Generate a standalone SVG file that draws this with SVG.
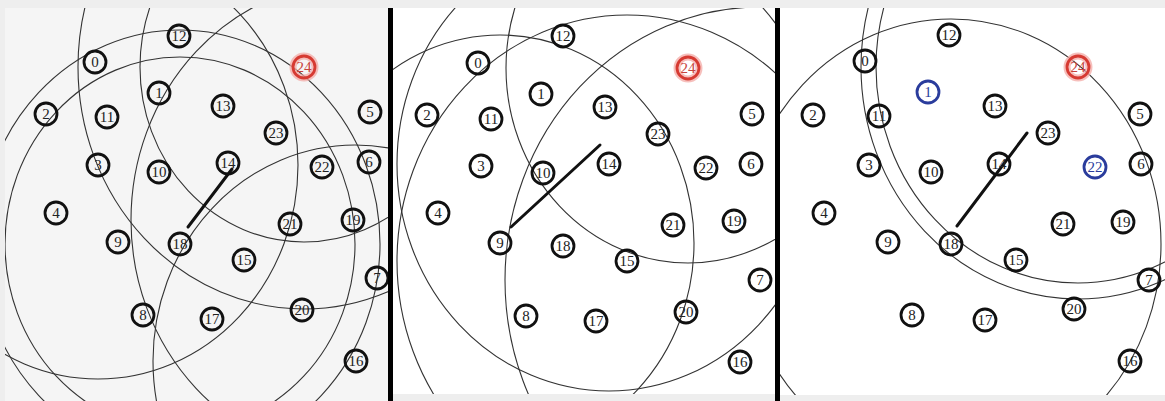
<svg xmlns="http://www.w3.org/2000/svg" width="1165" height="401" viewBox="0 0 1165 401">
<style>
.rng{fill:none;stroke:#333;stroke-width:1.1}
.nd circle{fill:none;stroke:#111;stroke-width:2.8}
.nd text{font-family:"Liberation Serif","Times New Roman",serif;font-size:15px;fill:#222;text-anchor:middle}
.red circle{stroke:#d63a32}
.red circle.glow{stroke:#f3a9a5;stroke-width:7;opacity:0.75}
.red text{fill:#c8433c}
.blue circle{stroke:#2a3c9c}
.blue text{fill:#2a3c9c}
.ln{stroke:#111;stroke-width:3;stroke-linecap:round}
</style>
<defs>
<clipPath id="clip1"><rect x="5" y="8" width="383" height="393"/></clipPath>
<clipPath id="clip2"><rect x="393" y="8" width="382" height="386"/></clipPath>
<clipPath id="clip3"><rect x="780" y="8" width="385" height="387"/></clipPath>
</defs>
<rect x="0" y="0" width="1165" height="401" fill="#eeeeee"/>
<rect x="5" y="8" width="383" height="393" fill="#f5f5f5"/>
<rect x="393" y="8" width="382" height="386" fill="#ffffff"/>
<rect x="780" y="8" width="385" height="387" fill="#ffffff"/>
<rect x="388" y="8" width="5" height="393" fill="#000"/>
<rect x="775" y="8" width="5" height="393" fill="#000"/>

<g id="connectors">
<g id="ranges-1" clip-path="url(#clip1)">
<ellipse class="rng" cx="304" cy="67" rx="226" ry="242"/>
<ellipse class="rng" cx="304" cy="67" rx="164" ry="175"/>
<ellipse class="rng" cx="180" cy="244" rx="175" ry="187"/>
<ellipse class="rng" cx="180" cy="244" rx="200" ry="214"/>
<ellipse class="rng" cx="98" cy="165" rx="200" ry="214"/>
<ellipse class="rng" cx="353" cy="220" rx="222" ry="238"/>
<ellipse class="rng" cx="355" cy="361" rx="202" ry="216"/>
<line class="ln" x1="188" y1="227" x2="232" y2="169"/>
</g>
<g id="ranges-2" clip-path="url(#clip2)">
<ellipse class="rng" cx="500" cy="243" rx="194" ry="208"/>
<ellipse class="rng" cx="688" cy="68" rx="182" ry="195"/>
<ellipse class="rng" cx="609" cy="164" rx="212" ry="227"/>
<ellipse class="rng" cx="627" cy="261" rx="230" ry="246"/>
<ellipse class="rng" cx="760" cy="280" rx="255" ry="273"/>
<line class="ln" x1="511" y1="227" x2="600" y2="145"/>
</g>
<g id="ranges-3" clip-path="url(#clip3)">
<ellipse class="rng" cx="951" cy="244" rx="210" ry="225"/>
<ellipse class="rng" cx="1078" cy="67" rx="217" ry="232"/>
<ellipse class="rng" cx="1078" cy="67" rx="202" ry="216"/>
<line class="ln" x1="957" y1="226" x2="1027" y2="133"/>
</g>
</g>

<g id="panel1" clip-path="url(#clip1)">
<g id="p1-n0" class="nd"><circle cx="95" cy="62" r="11"/><text x="95" y="67">0</text></g>
<g id="p1-n1" class="nd"><circle cx="159" cy="93" r="11"/><text x="159" y="98">1</text></g>
<g id="p1-n2" class="nd"><circle cx="46" cy="114" r="11"/><text x="46" y="119">2</text></g>
<g id="p1-n3" class="nd"><circle cx="98" cy="165" r="11"/><text x="98" y="170">3</text></g>
<g id="p1-n4" class="nd"><circle cx="56" cy="213" r="11"/><text x="56" y="218">4</text></g>
<g id="p1-n5" class="nd"><circle cx="370" cy="112" r="11"/><text x="370" y="117">5</text></g>
<g id="p1-n6" class="nd"><circle cx="369" cy="162" r="11"/><text x="369" y="167">6</text></g>
<g id="p1-n7" class="nd"><circle cx="377" cy="278" r="11"/><text x="377" y="283">7</text></g>
<g id="p1-n8" class="nd"><circle cx="143" cy="315" r="11"/><text x="143" y="320">8</text></g>
<g id="p1-n9" class="nd"><circle cx="118" cy="242" r="11"/><text x="118" y="247">9</text></g>
<g id="p1-n10" class="nd"><circle cx="159" cy="172" r="11"/><text x="159" y="177">10</text></g>
<g id="p1-n11" class="nd"><circle cx="107" cy="117" r="11"/><text x="107" y="122">11</text></g>
<g id="p1-n12" class="nd"><circle cx="179" cy="36" r="11"/><text x="179" y="41">12</text></g>
<g id="p1-n13" class="nd"><circle cx="223" cy="106" r="11"/><text x="223" y="111">13</text></g>
<g id="p1-n14" class="nd"><circle cx="228" cy="163" r="11"/><text x="228" y="168">14</text></g>
<g id="p1-n15" class="nd"><circle cx="244" cy="260" r="11"/><text x="244" y="265">15</text></g>
<g id="p1-n16" class="nd"><circle cx="356" cy="361" r="11"/><text x="356" y="366">16</text></g>
<g id="p1-n17" class="nd"><circle cx="212" cy="319" r="11"/><text x="212" y="324">17</text></g>
<g id="p1-n18" class="nd"><circle cx="180" cy="244" r="11"/><text x="180" y="249">18</text></g>
<g id="p1-n19" class="nd"><circle cx="353" cy="220" r="11"/><text x="353" y="225">19</text></g>
<g id="p1-n20" class="nd"><circle cx="302" cy="310" r="11"/><text x="302" y="315">20</text></g>
<g id="p1-n21" class="nd"><circle cx="290" cy="224" r="11"/><text x="290" y="229">21</text></g>
<g id="p1-n22" class="nd"><circle cx="322" cy="167" r="11"/><text x="322" y="172">22</text></g>
<g id="p1-n23" class="nd"><circle cx="276" cy="133" r="11"/><text x="276" y="138">23</text></g>
<g id="p1-n24" class="nd red"><circle class="glow" cx="304" cy="67" r="11"/><circle cx="304" cy="67" r="11"/><text x="304" y="72">24</text></g>
</g>

<g id="panel2" clip-path="url(#clip2)">
<g id="p2-n0" class="nd"><circle cx="478" cy="63" r="11"/><text x="478" y="68">0</text></g>
<g id="p2-n1" class="nd"><circle cx="541" cy="94" r="11"/><text x="541" y="99">1</text></g>
<g id="p2-n2" class="nd"><circle cx="427" cy="115" r="11"/><text x="427" y="120">2</text></g>
<g id="p2-n3" class="nd"><circle cx="481" cy="166" r="11"/><text x="481" y="171">3</text></g>
<g id="p2-n4" class="nd"><circle cx="438" cy="213" r="11"/><text x="438" y="218">4</text></g>
<g id="p2-n5" class="nd"><circle cx="752" cy="114" r="11"/><text x="752" y="119">5</text></g>
<g id="p2-n6" class="nd"><circle cx="751" cy="164" r="11"/><text x="751" y="169">6</text></g>
<g id="p2-n7" class="nd"><circle cx="760" cy="280" r="11"/><text x="760" y="285">7</text></g>
<g id="p2-n8" class="nd"><circle cx="526" cy="316" r="11"/><text x="526" y="321">8</text></g>
<g id="p2-n9" class="nd"><circle cx="500" cy="243" r="11"/><text x="500" y="248">9</text></g>
<g id="p2-n10" class="nd"><circle cx="543" cy="173" r="11"/><text x="543" y="178">10</text></g>
<g id="p2-n11" class="nd"><circle cx="491" cy="119" r="11"/><text x="491" y="124">11</text></g>
<g id="p2-n12" class="nd"><circle cx="563" cy="36" r="11"/><text x="563" y="41">12</text></g>
<g id="p2-n13" class="nd"><circle cx="605" cy="107" r="11"/><text x="605" y="112">13</text></g>
<g id="p2-n14" class="nd"><circle cx="609" cy="164" r="11"/><text x="609" y="169">14</text></g>
<g id="p2-n15" class="nd"><circle cx="627" cy="261" r="11"/><text x="627" y="266">15</text></g>
<g id="p2-n16" class="nd"><circle cx="740" cy="362" r="11"/><text x="740" y="367">16</text></g>
<g id="p2-n17" class="nd"><circle cx="596" cy="321" r="11"/><text x="596" y="326">17</text></g>
<g id="p2-n18" class="nd"><circle cx="563" cy="246" r="11"/><text x="563" y="251">18</text></g>
<g id="p2-n19" class="nd"><circle cx="734" cy="221" r="11"/><text x="734" y="226">19</text></g>
<g id="p2-n20" class="nd"><circle cx="686" cy="312" r="11"/><text x="686" y="317">20</text></g>
<g id="p2-n21" class="nd"><circle cx="673" cy="225" r="11"/><text x="673" y="230">21</text></g>
<g id="p2-n22" class="nd"><circle cx="706" cy="168" r="11"/><text x="706" y="173">22</text></g>
<g id="p2-n23" class="nd"><circle cx="658" cy="134" r="11"/><text x="658" y="139">23</text></g>
<g id="p2-n24" class="nd red"><circle class="glow" cx="688" cy="68" r="11"/><circle cx="688" cy="68" r="11"/><text x="688" y="73">24</text></g>
</g>

<g id="panel3" clip-path="url(#clip3)">
<g id="p3-n0" class="nd"><circle cx="865" cy="61" r="11"/><text x="865" y="66">0</text></g>
<g id="p3-n1" class="nd blue"><circle cx="928" cy="92" r="11"/><text x="928" y="97">1</text></g>
<g id="p3-n2" class="nd"><circle cx="813" cy="115" r="11"/><text x="813" y="120">2</text></g>
<g id="p3-n3" class="nd"><circle cx="869" cy="165" r="11"/><text x="869" y="170">3</text></g>
<g id="p3-n4" class="nd"><circle cx="824" cy="213" r="11"/><text x="824" y="218">4</text></g>
<g id="p3-n5" class="nd"><circle cx="1140" cy="114" r="11"/><text x="1140" y="119">5</text></g>
<g id="p3-n6" class="nd"><circle cx="1141" cy="164" r="11"/><text x="1141" y="169">6</text></g>
<g id="p3-n7" class="nd"><circle cx="1149" cy="280" r="11"/><text x="1149" y="285">7</text></g>
<g id="p3-n8" class="nd"><circle cx="912" cy="315" r="11"/><text x="912" y="320">8</text></g>
<g id="p3-n9" class="nd"><circle cx="888" cy="242" r="11"/><text x="888" y="247">9</text></g>
<g id="p3-n10" class="nd"><circle cx="931" cy="172" r="11"/><text x="931" y="177">10</text></g>
<g id="p3-n11" class="nd"><circle cx="879" cy="116" r="11"/><text x="879" y="121">11</text></g>
<g id="p3-n12" class="nd"><circle cx="949" cy="35" r="11"/><text x="949" y="40">12</text></g>
<g id="p3-n13" class="nd"><circle cx="995" cy="106" r="11"/><text x="995" y="111">13</text></g>
<g id="p3-n14" class="nd"><circle cx="999" cy="164" r="11"/><text x="999" y="169">14</text></g>
<g id="p3-n15" class="nd"><circle cx="1016" cy="260" r="11"/><text x="1016" y="265">15</text></g>
<g id="p3-n16" class="nd"><circle cx="1130" cy="361" r="11"/><text x="1130" y="366">16</text></g>
<g id="p3-n17" class="nd"><circle cx="985" cy="320" r="11"/><text x="985" y="325">17</text></g>
<g id="p3-n18" class="nd"><circle cx="951" cy="244" r="11"/><text x="951" y="249">18</text></g>
<g id="p3-n19" class="nd"><circle cx="1123" cy="222" r="11"/><text x="1123" y="227">19</text></g>
<g id="p3-n20" class="nd"><circle cx="1074" cy="309" r="11"/><text x="1074" y="314">20</text></g>
<g id="p3-n21" class="nd"><circle cx="1063" cy="224" r="11"/><text x="1063" y="229">21</text></g>
<g id="p3-n22" class="nd blue"><circle cx="1095" cy="167" r="11"/><text x="1095" y="172">22</text></g>
<g id="p3-n23" class="nd"><circle cx="1048" cy="133" r="11"/><text x="1048" y="138">23</text></g>
<g id="p3-n24" class="nd red"><circle class="glow" cx="1078" cy="67" r="11"/><circle cx="1078" cy="67" r="11"/><text x="1078" y="72">24</text></g>
</g>
</svg>
